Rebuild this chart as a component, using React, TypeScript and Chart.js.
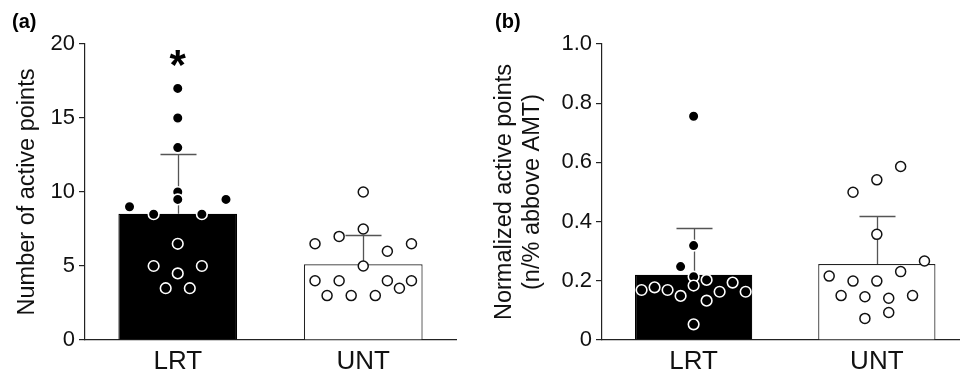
import React, { useEffect, useRef } from "react";
import { Chart, registerables } from "chart.js";

Chart.register(...registerables);

// ---------- data ----------
const groups = ["LRT", "UNT"];

// Panel (a): number of active points
const countMeans = [8.53, 5.11];
const countSD = [4.04, 2.0];
const countLRT = [9, 17, 15, 13, 10, 9.5, 9.5, 8.5, 8.5, 6.5, 5, 5, 4.5, 3.5, 3.5];
const countLRTSlot = [-4, 0, 0, 0, 0, 0, 4, -2, 2, 0, -2, 2, 0, -1, 1];
const countUNT = [10, 7.5, 7, 6.5, 6.5, 6, 5, 4, 4, 4, 4, 3.5, 3, 3, 3];
const countUNTSlot = [0, 0, -2, -4, 4, 2, 0, -4, -2, 2, 4, 3, -3, -1, 1];
const countTicks = [0, 5, 10, 15, 20];
const countSignificance = ["*", ""];
const countSignificanceLevel = 18.4;

// Panel (b): normalized active points
const normMeans = [0.2206, 0.257];
const normSD = [0.157, 0.162];
const normLRT = [0.756, 0.319, 0.248, 0.214, 0.169, 0.178, 0.169, 0.149, 0.184, 0.203, 0.133, 0.163, 0.194, 0.163, 0.053];
const normLRTSlot = [0, 0, -1, 0, -4, -3, -2, -1, 0, 1, 1, 2, 3, 4, 0];
const normUNT = [0.499, 0.541, 0.586, 0.357, 0.267, 0.216, 0.199, 0.199, 0.231, 0.15, 0.146, 0.141, 0.15, 0.073, 0.093];
const normUNTSlot = [-2, 0, 2, 0, 4, -4, -2, 0, 2, -3, -1, 1, 3, -1, 1];
const normTicks = [0, 0.2, 0.4, 0.6, 0.8, 1.0];

// ---------- style ----------
const FONT = "'Liberation Sans', Arial, Helvetica, sans-serif";
const AXIS = "#222";
const TEXT = "#111";
const ERR = "#555";

type PanelSpec = {
  letter: string;
  means: number[];
  sd: number[];
  lrt: number[];
  lrtSlot: number[];
  lrtSlotW: number;
  unt: number[];
  untSlot: number[];
  untSlotW: number;
  ticks: number[];
  tickFmt: (v: number) => string;
  title: string | string[];
  titlePad: number;
  yWidth: number;
  xMax: number;
  padRight: number;
  sig?: string[];
  sigLevel?: number;
};

function makeConfig(p: PanelSpec): any {
  const decor = {
    id: "decor",
    afterDatasetDraw(chart: any, args: any) {
      if (args.index !== 2) return;
      const { ctx } = chart;
      const x = chart.scales.x;
      const y = chart.scales.y;
      ctx.save();
      ctx.strokeStyle = ERR;
      ctx.lineWidth = 1.3;
      p.means.forEach((m, i) => {
        const px = Math.round(x.getPixelForValue(i)) + 0.5;
        const y0 = y.getPixelForValue(m);
        const y1 = Math.round(y.getPixelForValue(m + p.sd[i])) + 0.5;
        ctx.beginPath();
        ctx.moveTo(px, y0);
        ctx.lineTo(px, y1);
        ctx.moveTo(px - 18, y1);
        ctx.lineTo(px + 18, y1);
        ctx.stroke();
      });
      ctx.restore();
    },
    afterDraw(chart: any) {
      const { ctx } = chart;
      ctx.save();
      ctx.fillStyle = "#000";
      ctx.font = `bold 20px ${FONT}`;
      ctx.textBaseline = "alphabetic";
      ctx.textAlign = "left";
      ctx.fillText(p.letter, 12, 27.5);
      if (p.sig && p.sigLevel !== undefined) {
        const x = chart.scales.x;
        const y = chart.scales.y;
        ctx.font = `bold 42px ${FONT}`;
        ctx.textAlign = "center";
        ctx.textBaseline = "middle";
        p.sig.forEach((s, i) => {
          if (!s) return;
          ctx.fillText(s, x.getPixelForValue(i), y.getPixelForValue(p.sigLevel as number));
        });
      }
      ctx.restore();
    },
  };

  return {
    data: {
      datasets: [
        {
          type: "scatter",
          data: p.lrt.map((v, i) => ({ x: 0 + p.lrtSlot[i] * p.lrtSlotW, y: v })),
          backgroundColor: "#000",
          borderColor: "#fff",
          borderWidth: 1.6,
          pointRadius: 5.3,
          pointHoverRadius: 5.3,
        },
        {
          type: "scatter",
          data: p.unt.map((v, i) => ({ x: 1 + p.untSlot[i] * p.untSlotW, y: v })),
          backgroundColor: "#fff",
          borderColor: "#111",
          borderWidth: 1.5,
          pointRadius: 5,
          pointHoverRadius: 5,
        },
        {
          type: "bar",
          data: p.means.map((m, i) => ({ x: i, y: m })),
          backgroundColor: ["#000", "#fff"],
          borderColor: ["#000", AXIS],
          borderWidth: 1.2,
          categoryPercentage: 1,
          barPercentage: 0.64,
        },
      ],
    },
    options: {
      responsive: false,
      animation: false,
      events: [],
      layout: { padding: { left: 0, top: 44, right: p.padRight, bottom: 0 } },
      plugins: { legend: { display: false }, tooltip: { enabled: false } },
      scales: {
        x: {
          type: "linear",
          offset: false,
          min: -0.5,
          max: p.xMax,
          afterBuildTicks: (s: any) => {
            s.ticks = groups.map((_, i) => ({ value: i }));
          },
          afterFit: (s: any) => {
            s.height = 35;
          },
          grid: { display: false, drawTicks: false, offset: false },
          border: { color: AXIS, width: 1.2 },
          ticks: {
            callback: (v: number) => groups[v] ?? "",
            font: { family: FONT, size: 26, lineHeight: 1.2 },
            color: TEXT,
            padding: 6,
            autoSkip: false,
            maxRotation: 0,
          },
        },
        y: {
          type: "linear",
          min: p.ticks[0],
          max: p.ticks[p.ticks.length - 1],
          afterBuildTicks: (s: any) => {
            s.ticks = p.ticks.map((v) => ({ value: v }));
          },
          afterFit: (s: any) => {
            s.width = p.yWidth;
          },
          grid: { drawOnChartArea: false, drawTicks: true, tickLength: 6, color: AXIS, lineWidth: 1.2 },
          border: { color: AXIS, width: 1.2 },
          ticks: {
            callback: (v: number) => p.tickFmt(v),
            font: { family: FONT, size: 22, lineHeight: 1.2 },
            color: TEXT,
            padding: 4,
          },
          title: {
            display: true,
            text: p.title,
            color: TEXT,
            font: { family: FONT, size: 23.5, lineHeight: 1.15 },
            padding: { top: p.titlePad, bottom: 0 },
          },
        },
      },
    },
    plugins: [decor],
  };
}

const panelA: PanelSpec = {
  letter: "(a)",
  means: countMeans,
  sd: countSD,
  lrt: countLRT,
  lrtSlot: countLRTSlot,
  lrtSlotW: 0.065,
  unt: countUNT,
  untSlot: countUNTSlot,
  untSlotW: 0.065,
  ticks: countTicks,
  tickFmt: (v) => String(v),
  title: "Number of active points",
  titlePad: 14,
  yWidth: 85,
  xMax: 1.5,
  padRight: 27,
  sig: countSignificance,
  sigLevel: countSignificanceLevel,
};

const panelB: PanelSpec = {
  letter: "(b)",
  means: normMeans,
  sd: normSD,
  lrt: normLRT,
  lrtSlot: normLRTSlot,
  lrtSlotW: 0.071,
  unt: normUNT,
  untSlot: normUNTSlot,
  untSlotW: 0.065,
  ticks: normTicks,
  tickFmt: (v) => (v === 0 ? "0" : v.toFixed(1)),
  title: ["Normalized active points", "(n/% abbove AMT)"],
  titlePad: 8.5,
  yWidth: 119,
  xMax: 1.449,
  padRight: 1,
};

export default function App() {
  const refA = useRef<HTMLCanvasElement | null>(null);
  const refB = useRef<HTMLCanvasElement | null>(null);

  useEffect(() => {
    const charts: Chart[] = [];
    if (refA.current) charts.push(new Chart(refA.current, makeConfig(panelA)));
    if (refB.current) charts.push(new Chart(refB.current, makeConfig(panelB)));
    return () => charts.forEach((c) => c.destroy());
  }, []);

  return (
    <div style={{ position: "fixed", left: 0, top: 0, width: 966, height: 375, background: "#fff" }}>
      <canvas ref={refA} width={483} height={375} style={{ position: "absolute", left: 0, top: 0, width: 483, height: 375 }} />
      <canvas ref={refB} width={483} height={375} style={{ position: "absolute", left: 483, top: 0, width: 483, height: 375 }} />
    </div>
  );
}
